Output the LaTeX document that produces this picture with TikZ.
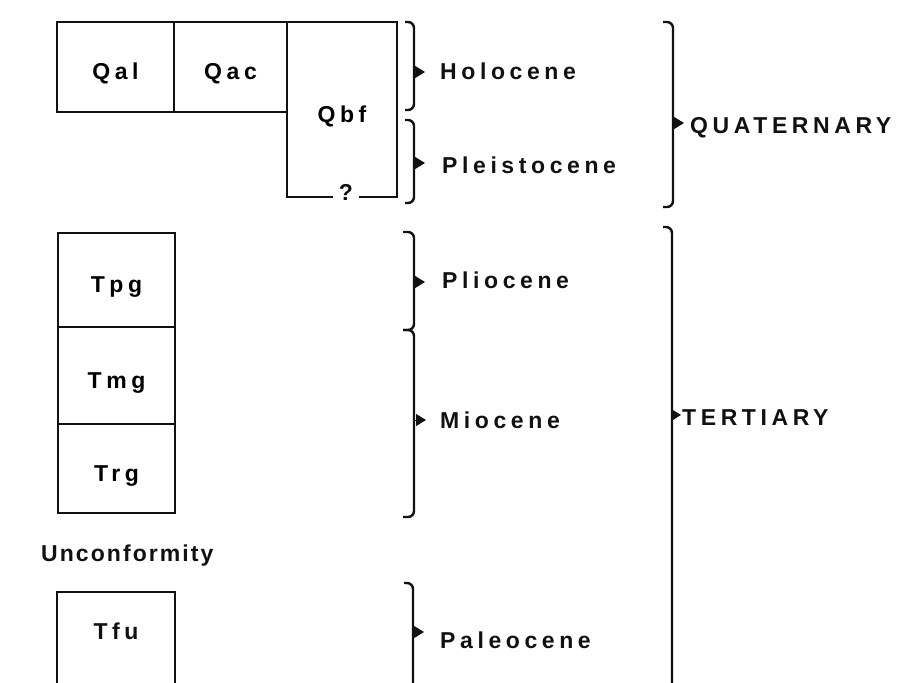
\documentclass[tikz,border=0pt]{standalone}
\usepackage{fontspec}
\setmainfont{Liberation Sans}[LetterSpace=20]
\newfontfamily\gnarrow{Liberation Sans}[LetterSpace=9]
\usepackage{xcolor}
\usepackage{tikz}
\usetikzlibrary{arrows.meta,positioning}
\definecolor{gink}{HTML}{111111}
\tikzset{
  >={Triangle[length=10pt,width=12pt]},
  gfont/.style={font=\bfseries\fontsize{23}{27}\selectfont},
  gbox/.style={gfont, draw=gink, line width=1.6pt, minimum width=117pt,
               inner sep=0pt, outer sep=0pt, text height=25pt, text depth=0pt},
  gline/.style={draw=gink, line width=1.6pt},
  gbrace/.style={draw=gink, line width=2.4pt, rounded corners=6pt},
  gtip/.style={->, gink, line width=1pt},
  glbl/.style={gfont, text=gink, anchor=west, inner sep=0pt,
               text height=16pt, text depth=0pt},
}
\begin{document}
\begin{tikzpicture}[x=1pt,y=-1pt]

  \useasboundingbox (0,0) rectangle (914,683);
  \clip (0,0) rectangle (914,683);

  % unidades quaternarias
  \node[gbox, minimum height=90pt] (qal) at (115.5,67) {Qal};
  \node[gbox, minimum width=113pt, minimum height=90pt, right=0pt of qal] (qac) {Qac};
  \node[gbox, minimum width=110pt, minimum height=175pt, anchor=north west]
       (qbf) at (qac.north east) {Qbf};
  \draw[gline, line width=2.4pt] (qbf.north east) -- (qbf.south east);
  \node[gfont, text=gink, fill=white, inner xsep=6pt, inner ysep=2pt, anchor=base]
       (qmark) at ([xshift=4pt,yshift=-3pt]qbf.south) {?};

  % unidades terciarias
  \node[gbox, minimum height=94pt] (tpg) at (116.5,280) {Tpg};
  \node[gbox, minimum height=97pt, below=0pt of tpg] (tmg) {Tmg};
  \node[gbox, minimum height=89pt, below=0pt of tmg] (trg) {Trg};

  \node[glbl, font=\gnarrow\bfseries\fontsize{23}{27}\selectfont] (unconf) at (41,553) {Unconformity};

  \node[gfont, text=gink, text height=16pt, text depth=0pt] (tfu) at (116,631) {Tfu};
  \draw[gline] (57,700) |- (175,592) -- (175,700);

  % chaves das epocas
  \draw[gbrace] (405,22) -- (414,22) -- (414,110) -- (405,110);
  \draw[gtip] (414,72) -- ++(11,0);
  \node[glbl] (hol) at (440,71) {Holocene};

  \draw[gbrace] (405,120) -- (414,120) -- (414,203) -- (405,203);
  \draw[gtip] (414,163) -- ++(11,0);
  \node[glbl] (ple) at (442,165) {Pleistocene};

  \draw[gbrace] (403,232) -- (414,232) -- (414,330) -- (403,330);
  \draw[gtip] (414,282) -- ++(11,0);
  \node[glbl] (pli) at (442,280) {Pliocene};

  \draw[gbrace] (403,330) -- (414,330) -- (414,517) -- (403,517);
  \draw[gtip] (414,420) -- ++(12,0);
  \node[glbl] (mio) at (440,420) {Miocene};

  \draw[gbrace] (404,583) -- (413,583) -- (413,720);
  \draw[gtip] (413,632) -- ++(11,0);
  \node[glbl] (pal) at (440,640) {Paleocene};

  % chaves dos periodos
  \draw[gbrace] (663,22) -- (673,22) -- (673,207) -- (663,207);
  \draw[gtip] (673,123) -- ++(11,0);
  \node[glbl] (quat) at (690,125) {QUATERNARY};

  \draw[gbrace] (663,227) -- (672,227) -- (672,720);
  \draw[gtip] (672,415) -- ++(9,0);
  \node[glbl] (tert) at (682,417) {TERTIARY};

\end{tikzpicture}
\end{document}
